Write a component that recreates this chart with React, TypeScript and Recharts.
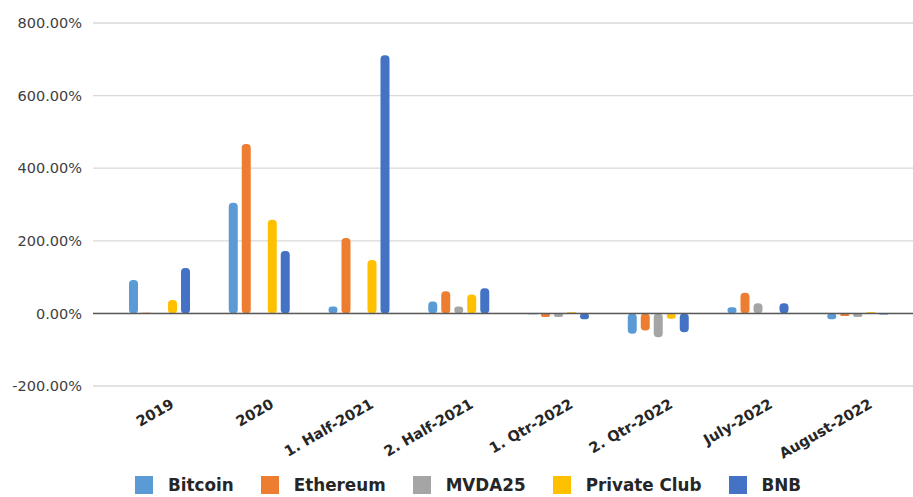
import React from "react";
import { BarChart, Bar, XAxis, YAxis, CartesianGrid, Legend, ReferenceLine } from "recharts";

const categories = ["2019", "2020", "1. Half-2021", "2. Half-2021", "1. Qtr-2022", "2. Qtr-2022", "July-2022", "August-2022"];
const bitcoin = [92, 305, 19, 33, -2, -56, 17, -16];
const ethereum = [2, 467, 208, 61, -10, -47, 57, -7];
const mvda25 = [null, null, null, 19, -10, -66, 28, -10];
const privateClub = [37, 258, 147, 52, 3, -15, null, 3];
const bnb = [125, 172, 711, 69, -16, -52, 28, -3];
const yTicks = [-200, 0, 200, 400, 600, 800];

const seriesList = [
  { key: "Bitcoin", values: bitcoin, color: "#5B9BD5" },
  { key: "Ethereum", values: ethereum, color: "#ED7D31" },
  { key: "MVDA25", values: mvda25, color: "#A5A5A5" },
  { key: "Private Club", values: privateClub, color: "#FFC000" },
  { key: "BNB", values: bnb, color: "#4472C4" },
];

const data = categories.map((c, i) => {
  const row: any = { name: c };
  seriesList.forEach((s) => (row[s.key] = s.values[i]));
  return row;
});

const XTick = (props: any) => {
  const { x, y, payload } = props;
  return (
    <g transform={`translate(${x + 10},${y + 12})`}>
      <text
        x={0}
        y={0}
        dy="0.71em"
        textAnchor="end"
        transform="rotate(-30)"
        fontFamily="DejaVu Sans"
        fontWeight="bold"
        fontSize={14.5}
        fill="#262626"
      >
        {payload.value}
      </text>
    </g>
  );
};

const PillBar = (props: any) => {
  const { x, y, width, height, fill } = props;
  if (height == null || width == null) return null;
  const top = height < 0 ? y + height : y;
  const h = Math.abs(height);
  if (h <= 0) return null;
  const r = Math.min(4, width / 2, h / 2);
  return <rect x={x} y={top} width={width} height={h} rx={r} ry={r} fill={fill} />;
};

const LegendContent = () => (
  <div style={{ display: "flex", alignItems: "center", height: 24, paddingLeft: 135, boxSizing: "border-box" }}>
    {seriesList.map((s) => (
      <div key={s.key} style={{ display: "flex", alignItems: "center", marginRight: 27 }}>
        <div style={{ width: 18, height: 18, background: s.color, marginRight: 15 }} />
        <span style={{ fontFamily: "DejaVu Sans", fontWeight: "bold", fontSize: 16.8, color: "#262626" }}>{s.key}</span>
      </div>
    ))}
  </div>
);

export default function App() {
  return (
    <div style={{ position: "absolute", left: 0, top: 0, width: 913, height: 497, background: "#fff" }}>
      <BarChart
        width={913}
        height={497}
        data={data}
        margin={{ top: 23, right: 0, bottom: 0, left: 0 }}
        barCategoryGap={19}
        barGap={4}
      >
        <CartesianGrid vertical={false} stroke="#d9d9d9" strokeWidth={1.3} />
        <XAxis
          dataKey="name"
          axisLine={false}
          tickLine={false}
          tickSize={0}
          tickMargin={0}
          height={87}
          interval={0}
          padding={{ left: 17, right: 5 }}
          tick={<XTick />}
        />
        <YAxis
          domain={[-200, 800]}
          ticks={yTicks}
          width={93}
          axisLine={false}
          tickLine={false}
          tickSize={0}
          tickMargin={11}
          tickFormatter={(v: number) => `${v.toFixed(2)}%`}
          tick={{ fontFamily: "DejaVu Sans", fontSize: 14.5, fill: "#404040" }}
        />
        {seriesList.map((s) => (
          <Bar
            key={s.key}
            dataKey={s.key}
            fill={s.color}
            barSize={9}
            shape={<PillBar />}
            isAnimationActive={false}
          />
        ))}
        <ReferenceLine y={0} stroke="#595959" strokeWidth={1.5} />
        <Legend
          verticalAlign="bottom"
          wrapperStyle={{ left: 0, width: 913 }}
          content={<LegendContent />}
        />
      </BarChart>
    </div>
  );
}
